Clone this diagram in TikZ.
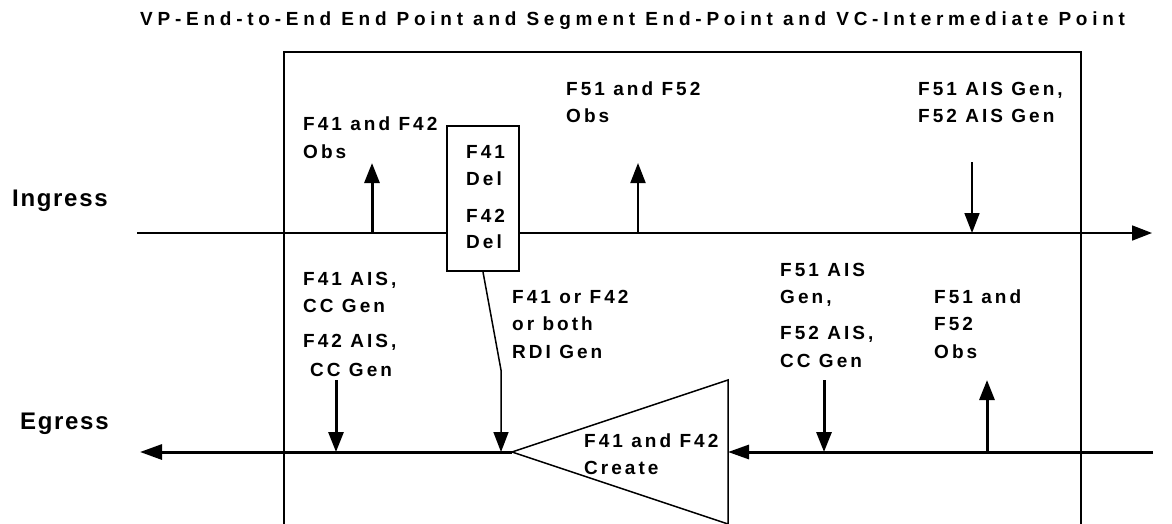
\documentclass[tikz,border=0pt]{standalone}
\usepackage{fontspec}
\setmainfont{Liberation Sans}
\newfontfamily\lsbody[LetterSpace=16]{Liberation Sans}
\newfontfamily\lstitle[LetterSpace=25]{Liberation Sans}
\newfontfamily\lsside[LetterSpace=7]{Liberation Sans}
\usetikzlibrary{arrows.meta}
\tikzset{
  lbl/.style={anchor=base west, inner sep=0pt, font=\lsbody\bfseries\fontsize{19}{22}\selectfont},
  side/.style={anchor=base west, inner sep=0pt, font=\lsside\bfseries\fontsize{24}{28}\selectfont},
  ttl/.style={anchor=base west, inner sep=0pt, font=\lstitle\bfseries\fontsize{19}{22}\selectfont},
  tip/.style={-{Triangle[length=20pt,width=15pt]}},
  thickarr/.style={tip, line width=3pt},
  midarr/.style={tip, line width=2pt},
  thinarr/.style={tip, line width=1.7pt},
}
\begin{document}
\begin{tikzpicture}[x=1pt,y=-1pt]
\useasboundingbox (0,0) rectangle (1172,523);
\clip (0,0) rectangle (1172,523);
% title and side labels
\node[ttl] (title) at (140,25) {VP-End-to-End End Point and Segment End-Point and VC-Intermediate Point};
\node[side] (ingress) at (12,206) {Ingress};
\node[side] (egress) at (20,429) {Egress};
% main box
\draw[line width=1.3pt] (284,52) rectangle (1081,560);
% coordinates
\coordinate (inL) at (137,233);
\coordinate (inR) at (1152,233);
\coordinate (egR) at (1153,452);
\coordinate (egL) at (140,452);
\coordinate (apex) at (512,452);
\coordinate (triT) at (728,380);
\coordinate (triB) at (728,524);
\coordinate (triR) at (728,452);
% ingress line
\draw[line width=1.7pt, -{Triangle[length=20pt,width=15pt]}] (inL) -- (inR);
% Del box
\node[draw, fill=white, line width=2pt, minimum width=72pt, minimum height=145pt, inner sep=0pt] (del) at (483,198.5) {};
\node[lbl] (d1) at (466,158) {F41};
\node[lbl] (d2) at (466,185) {Del};
\node[lbl] (d3) at (466,222) {F42};
\node[lbl] (d4) at (466,248) {Del};
% triangle
\draw[line width=1.5pt] (apex) -- (triT) -- (triB) -- cycle;
% egress lines
\draw[line width=3pt, -{Triangle[length=21pt,width=14pt]}] (egR) -- (triR);
\draw[line width=3pt, -{Triangle[length=22pt,width=15pt]}] (apex) -- (egL);
% ingress arrows
\coordinate (a1s) at (372,233); \coordinate (a1e) at (372,163);
\coordinate (a2s) at (638,233); \coordinate (a2e) at (638,163);
\coordinate (a3s) at (972,162); \coordinate (a3e) at (972,233);
\draw[thickarr] (a1s) -- (a1e);
\draw[midarr] (a2s) -- (a2e);
\draw[thinarr] (a3s) -- (a3e);
% egress arrows
\coordinate (b1s) at (336,380); \coordinate (b1e) at (336,452);
\coordinate (b2s) at (824,380); \coordinate (b2e) at (824,452);
\coordinate (b3s) at (987,452); \coordinate (b3e) at (987,380);
\draw[thickarr] (b1s) -- (b1e);
\draw[thickarr] (b2s) -- (b2e);
\draw[thickarr] (b3s) -- (b3e);
% RDI connector
\coordinate (rdiK) at (501,370);
\coordinate (rdiE) at (501,452);
\draw[line width=1.5pt, tip] (del.south) -- (rdiK) -- (rdiE);
% labels upper
\node[lbl] (t1) at (303,130) {F41 and F42};
\node[lbl] (t2) at (303,158) {Obs};
\node[lbl] (t3) at (566,95) {F51 and F52};
\node[lbl] (t4) at (566,122) {Obs};
\node[lbl] (t5) at (918,95) {F51 AIS Gen,};
\node[lbl] (t6) at (918,122) {F52 AIS Gen};
% labels lower
\node[lbl] (u1) at (303,285) {F41 AIS,};
\node[lbl] (u2) at (303,312) {CC Gen};
\node[lbl] (u3) at (303,347) {F42 AIS,};
\node[lbl] (u4) at (310,376) {CC Gen};
\node[lbl] (r1) at (512,303) {F41 or F42};
\node[lbl] (r2) at (512,330) {or both};
\node[lbl] (r3) at (512,358) {RDI Gen};
\node[lbl] (c1) at (584,447) {F41 and F42};
\node[lbl] (c2) at (584,474) {Create};
\node[lbl] (v1) at (780,276) {F51 AIS};
\node[lbl] (v2) at (780,303) {Gen,};
\node[lbl] (v3) at (780,339) {F52 AIS,};
\node[lbl] (v4) at (780,367) {CC Gen};
\node[lbl] (w1) at (934,303) {F51 and};
\node[lbl] (w2) at (934,330) {F52};
\node[lbl] (w3) at (934,358) {Obs};
\end{tikzpicture}
\end{document}
